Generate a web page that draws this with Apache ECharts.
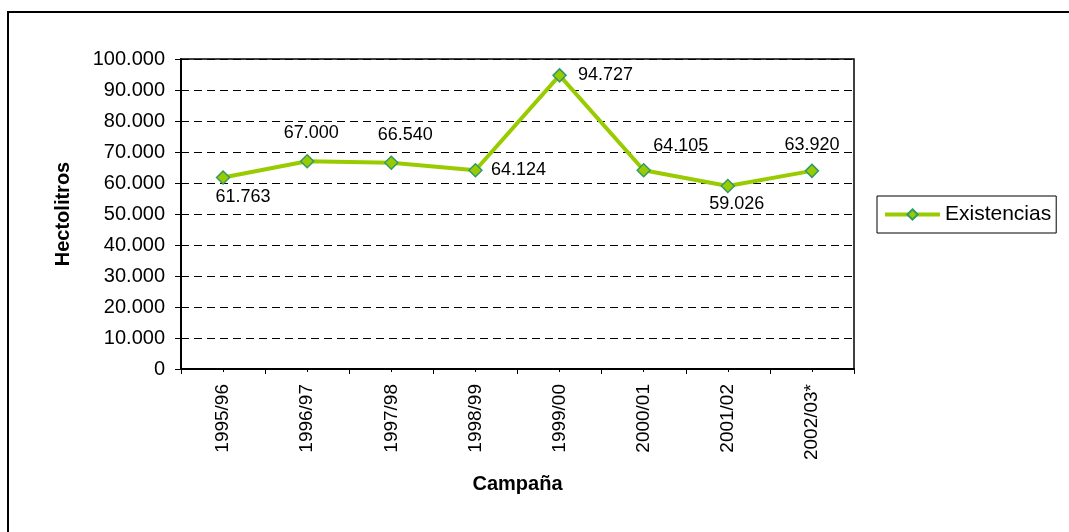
<!DOCTYPE html>
<html>
<head>
<meta charset="utf-8">
<script src="https://cdn.jsdelivr.net/npm/echarts@6/dist/echarts.min.js"></script>
<style>
  html, body { margin: 0; padding: 0; background: #fff; }
  #chart { position: absolute; left: 0; top: 0; width: 1069px; height: 532px; }
  #frame { position: absolute; left: 7px; top: 11px; right: 0; bottom: 0;
           border-top: 2px solid #000; border-left: 2px solid #000; pointer-events: none; }
</style>
</head>
<body>
<div id="chart"></div>
<div id="frame"></div>
<script>
// datos
var campanas = ['1995/96', '1996/97', '1997/98', '1998/99', '1999/00', '2000/01', '2001/02', '2002/03*'];
var existencias = [61763, 67000, 66540, 64124, 94727, 64105, 59026, 63920];

// donde va cada etiqueta respecto al punto (px)
var labelOffsets = [[20, 19], [4, -28], [14, -28], [43, 0], [46, 0], [37, -24], [9, 18], [0, -26]];

var FONT = '"Liberation Sans", Arial, sans-serif';

function miles(v) {
  return String(v).replace(/\B(?=(\d{3})+(?!\d))/g, '.');
}

var chart = echarts.init(document.getElementById('chart'), null, { renderer: 'canvas' });

var option = {
  animation: false,
  textStyle: { fontFamily: FONT },
  grid: {
    left: 181, right: 215, top: 59, bottom: 163,
    show: true, borderColor: '#000', borderWidth: 1.5
  },
  legend: {
    data: ['Existencias'],
    orient: 'vertical',
    left: 877, top: 196,
    padding: [8, 5, 8, 6],
    borderColor: '#000', borderWidth: 1,
    itemWidth: 55, itemHeight: 13,
    lineStyle: { width: 4 },
    textStyle: { fontSize: 21, color: '#000', fontFamily: FONT }
  },
  xAxis: [{
    type: 'category',
    position: 'bottom',
    data: campanas,
    boundaryGap: true,
    name: 'Campaña',
    nameLocation: 'middle',
    nameGap: 105,
    nameTextStyle: { fontSize: 20, fontWeight: 'bold', color: '#000', fontFamily: FONT },
    axisLine: { lineStyle: { color: '#000', width: 2 } },
    axisTick: { show: true, length: 5, alignWithLabel: false, lineStyle: { color: '#000' } },
    axisLabel: { rotate: 90, margin: 15, fontSize: 19, color: '#000', fontFamily: FONT },
    splitLine: { show: false }
  }, {
    // marcas cortas en el centro de cada campaña
    type: 'category',
    position: 'bottom',
    data: campanas,
    boundaryGap: true,
    axisLine: { show: false },
    axisTick: { show: true, length: 3, alignWithLabel: true, lineStyle: { color: '#000' } },
    axisLabel: { show: false },
    splitLine: { show: false }
  }],
  yAxis: {
    type: 'value',
    min: 0, max: 100000, interval: 10000,
    name: 'Hectolitros',
    nameLocation: 'middle',
    nameGap: 108,
    nameTextStyle: { fontSize: 20, fontWeight: 'bold', color: '#000', fontFamily: FONT },
    axisLine: { show: true, lineStyle: { color: '#000', width: 2 } },
    axisTick: { show: true, length: 6, lineStyle: { color: '#000' } },
    axisLabel: { margin: 16, fontSize: 20, color: '#000', fontFamily: FONT, formatter: miles },
    splitLine: { show: true, lineStyle: { color: '#000', width: 1, type: [8, 5] } }
  },
  series: [{
    name: 'Existencias',
    type: 'line',
    xAxisIndex: 0,
    data: existencias.map(function (v, i) {
      return {
        value: v,
        label: { position: 'inside', offset: labelOffsets[i] }
      };
    }),
    symbol: 'diamond',
    symbolSize: 13,
    lineStyle: { color: '#99CC00', width: 4 },
    itemStyle: { color: '#99CC00', borderColor: '#339966', borderWidth: 1.5 },
    label: {
      show: true,
      fontSize: 18,
      color: '#000',
      fontFamily: FONT,
      formatter: function (p) { return miles(p.value); }
    }
  }]
};

chart.setOption(option);
</script>
</body>
</html>
